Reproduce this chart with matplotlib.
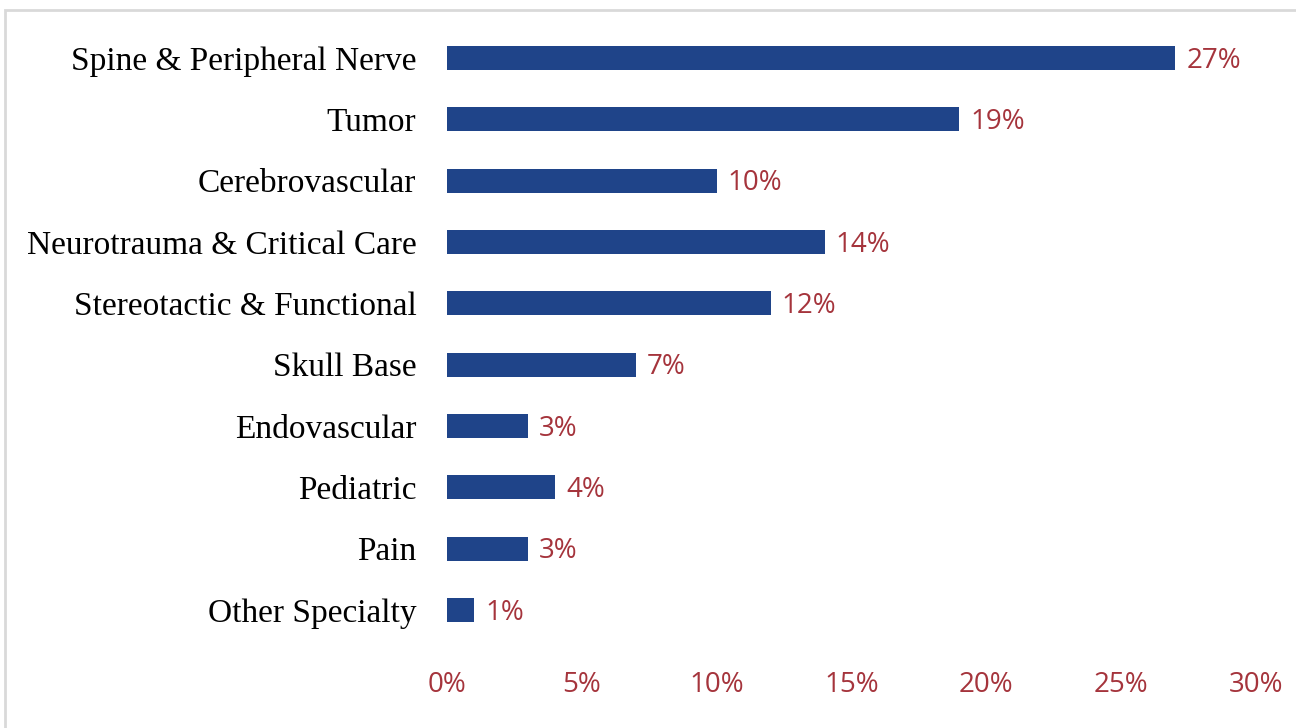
import matplotlib.pyplot as plt
from matplotlib.patches import Rectangle

categories = ["Spine & Peripheral Nerve", "Tumor", "Cerebrovascular",
              "Neurotrauma & Critical Care", "Stereotactic & Functional",
              "Skull Base", "Endovascular", "Pediatric", "Pain", "Other Specialty"]
values = [27, 19, 10, 14, 12, 7, 3, 4, 3, 1]
ticks = [0, 5, 10, 15, 20, 25, 30]

bar_color = "#1F4489"
red = "#A5343C"

fig = plt.figure(figsize=(12.96, 7.28), dpi=100)
ax = fig.add_axes([0.3449, 0.120, 0.9691 - 0.3449, 0.9624 - 0.120])

# light grey frame of the chart area
fig.patches.append(Rectangle((5 / 1296, -0.05), 1.2, 1 - 10 / 728 + 0.05,
                             transform=fig.transFigure, fill=False,
                             edgecolor="#D9D9D9", linewidth=2))

y = list(range(len(categories)))
ax.barh(y, values, height=0.39, color=bar_color)
for yi, v in zip(y, values):
    ax.annotate(f"{v}%", (v, yi), xytext=(8, -2), textcoords="offset points",
                va="center", ha="left", color=red, fontsize=20, family="Open Sans")

ax.set_xlim(0, 30)
ax.set_ylim(len(categories) - 0.5, -0.5)
ax.set_yticks(y)
ax.set_yticklabels(categories, family="Liberation Serif", fontsize=24)
ax.set_xticks(ticks)
ax.set_xticklabels([f"{t}%" for t in ticks], family="Open Sans", fontsize=20, color=red)
ax.tick_params(axis="both", length=0)
ax.tick_params(axis="y", pad=22)
ax.tick_params(axis="x", pad=22)
for s in ax.spines.values():
    s.set_visible(False)

fig.savefig("out.png", dpi=100)
